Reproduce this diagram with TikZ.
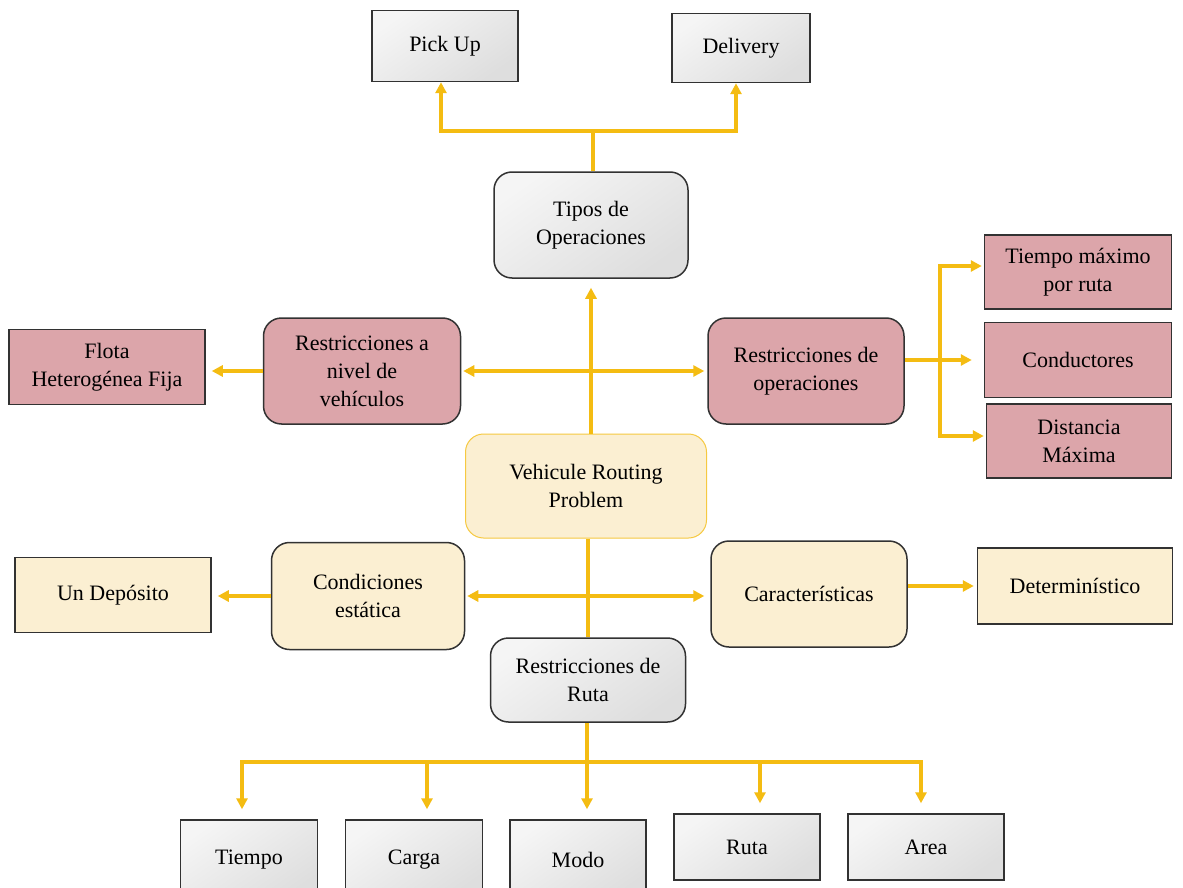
\documentclass[tikz,border=0pt]{standalone}
\usepackage{fontspec}
\setmainfont{Liberation Serif}
\usetikzlibrary{arrows.meta,positioning}
\definecolor{oro}{RGB}{244,188,18}
\definecolor{rosa}{RGB}{220,165,170}
\definecolor{crema}{RGB}{251,239,210}
\definecolor{borde}{RGB}{50,50,50}
\tikzset{
  caja/.style={draw=borde, line width=1.5pt, align=center, inner sep=0pt,
    font=\fontsize{22}{28}\selectfont},
  marmol/.style={caja, left color=gray!8, right color=gray!26, shading angle=35},
  rosada/.style={caja, fill=rosa},
  amarilla/.style={caja, fill=crema},
  redonda/.style={rounded corners=18pt},
  linea/.style={draw=oro, line width=3.2pt},
  flecha/.style={linea, -{Triangle[length=11pt,width=11pt]}},
  doble/.style={linea, {Triangle[length=11pt,width=11pt]}-{Triangle[length=11pt,width=11pt]}}
}
\begin{document}
\begin{tikzpicture}[x=1pt, y=-1pt]
\clip (0,0) rectangle (1183,888);
\fill[white] (0,0) rectangle (1183,888);
% top
\node[marmol, minimum width=146, minimum height=71] (pick) at (445,46) {Pick Up};
\node[marmol, minimum width=138, minimum height=69] (deliv) at (741,48) {Delivery};
\node[marmol, redonda, minimum width=194, minimum height=106] (tipos) at (591,225) {Tipos de\\Operaciones};
% middle rows
\node[rosada, redonda, minimum width=197, minimum height=106] (rveh) at (362,371) {Restricciones a\\nivel de\\vehículos};
\node[rosada, minimum width=196, minimum height=75] (flota) at (107,367) {Flota\\Heterogénea Fija};
\node[rosada, redonda, minimum width=196, minimum height=106] (rop) at (806,371) {Restricciones de\\operaciones};
\node[rosada, minimum width=187, minimum height=74] (tmax) at (1078,272) {Tiempo máximo\\por ruta};
\node[rosada, minimum width=187, minimum height=75] (cond) at (1078,360) {Conductores};
\node[rosada, minimum width=185, minimum height=74] (dist) at (1079,441) {Distancia\\Máxima};
\node[amarilla, redonda, draw=oro!80, line width=1pt, minimum width=241, minimum height=104] (vrp) at (586,486) {Vehicule Routing\\Problem};
\node[amarilla, redonda, minimum width=193, minimum height=107] (cest) at (368,596) {Condiciones\\estática};
\node[amarilla, minimum width=196, minimum height=75] (depo) at (113,595) {Un Depósito};
\node[amarilla, redonda, minimum width=196, minimum height=106] (carac) at (809,594) {Características};
\node[amarilla, minimum width=195, minimum height=76] (deter) at (1075,586) {Determinístico};
\node[marmol, redonda, minimum width=195, minimum height=84] (rruta) at (588,680) {Restricciones de\\Ruta};
% bottom
\node[marmol, minimum width=137, minimum height=80] (tiempo) at (249,860) {Tiempo};
\node[marmol, minimum width=137, minimum height=80] (carga) at (414,860) {Carga};
\node[marmol, minimum width=136, minimum height=80] (modo) at (578,860) {Modo};
\node[marmol, minimum width=146, minimum height=66] (ruta) at (747,847) {Ruta};
\node[marmol, minimum width=156, minimum height=66] (area) at (926,847) {Area};
% connectors
\coordinate (arriba) at (593,131);
\draw[linea] (tipos.north -| arriba) -- (arriba);
\draw[flecha] (arriba) -| ([xshift=-4pt]pick.south);
\draw[flecha] (arriba) -| ([xshift=-5pt]deliv.south);
\draw[flecha, shorten >=9pt] (tipos.south |- vrp.north) -- (tipos.south);
\draw[doble, shorten <=2pt, shorten >=3pt] (rveh.east) -- (rop.west);
\draw[flecha, shorten >=6pt] (rveh.west) -- (rveh.west -| flota.east);
\draw[flecha, shorten >=12pt] (rop.east |- cond.west) -- (cond.west);
\coordinate (rama) at (940,360);
\draw[flecha, shorten >=2pt] (rama) |- ([yshift=6pt]tmax.west);
\draw[flecha, shorten >=2pt] (rama) |- ([yshift=5pt]dist.west);
\draw[linea] (vrp.south -| rruta.north) -- (rruta.north);
\draw[doble, shorten <=2pt, shorten >=6pt] (cest.east) -- (cest.east -| carac.west);
\draw[flecha, shorten >=6pt] (cest.west) -- (cest.west -| depo.east);
\draw[flecha, shorten >=3pt] (carac.east |- deter.west) -- (deter.west);
\coordinate (bus) at (587,762);
\draw[linea] (rruta.south -| bus) -- (bus);
\draw[flecha, shorten >=10pt] (bus) -| ([xshift=-7pt]tiempo.north);
\draw[flecha, shorten >=10pt] (bus) -| ([xshift=13pt]carga.north);
\draw[flecha, shorten >=10pt] (bus) -- ([xshift=9pt]modo.north);
\draw[flecha, shorten >=10pt] (bus) -| ([xshift=13pt]ruta.north);
\draw[flecha, shorten >=10pt] (bus) -| ([xshift=-5pt]area.north);
\end{tikzpicture}
\end{document}
